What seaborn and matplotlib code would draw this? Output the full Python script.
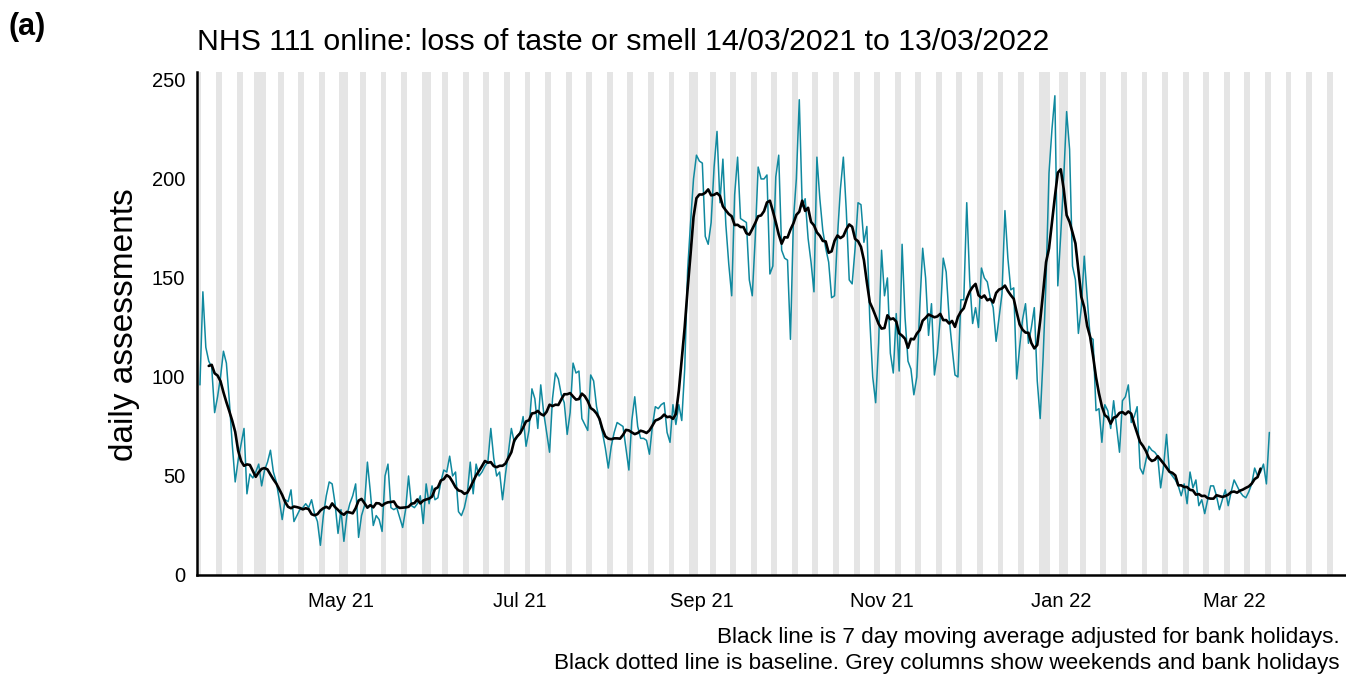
import pandas as pd
import matplotlib.pyplot as plt
import matplotlib.dates as mdates
import seaborn as sns

# Daily NHS 111 online assessments (loss of taste or smell)
mar21 = [96, 143, 115, 108, 105, 82, 90, 100, 113, 107, 88, 66, 47, 58, 66, 74, 41, 51]
apr21 = [49, 52, 56, 45, 53, 57, 63, 52, 47, 38, 28, 38, 37, 43, 27, 30, 33, 34, 36, 34,
         38, 31, 27, 15, 30, 40, 47, 46, 36, 21]
may21 = [33, 17, 30, 36, 40, 46, 19, 30, 35, 57, 42, 25, 30, 28, 22, 50, 56, 34, 33, 34,
         29, 24, 33, 50, 35, 34, 36, 40, 26, 46, 36]
jun21 = [45, 38, 39, 47, 53, 52, 60, 50, 52, 32, 30, 34, 41, 57, 41, 56, 50, 52, 55, 57,
         74, 59, 50, 52, 38, 51, 62, 74, 67, 70]
jul21 = [72, 80, 65, 73, 94, 89, 74, 96, 82, 72, 62, 89, 102, 99, 91, 87, 71, 82, 107, 102,
         103, 79, 76, 73, 101, 98, 85, 78, 72, 64, 54]
aug21 = [65, 72, 77, 76, 75, 64, 53, 78, 90, 75, 69, 69, 68, 61, 75, 85, 84, 86, 87, 72,
         67, 86, 76, 86, 78, 104, 154, 178, 200, 212, 209]
sep21 = [208, 171, 167, 178, 206, 224, 188, 210, 177, 157, 141, 192, 211, 180, 179, 178,
         149, 141, 170, 206, 200, 200, 202, 152, 156, 201, 212, 164, 160, 159]
oct21 = [119, 179, 200, 240, 186, 190, 170, 158, 143, 211, 190, 174, 165, 158, 140, 141,
         171, 195, 211, 184, 149, 147, 165, 188, 187, 168, 176, 129, 100, 87, 117]
nov21 = [164, 141, 150, 112, 102, 132, 103, 167, 130, 108, 104, 91, 100, 135, 165, 150,
         121, 137, 101, 112, 130, 160, 153, 130, 115, 101, 100, 139, 139, 188]
dec21 = [149, 127, 135, 125, 155, 150, 148, 140, 135, 118, 130, 142, 184, 160, 144, 145,
         99, 115, 129, 137, 117, 125, 135, 98, 79, 110, 149, 203, 225, 242, 146]
jan22 = [172, 200, 234, 215, 156, 149, 122, 135, 161, 140, 120, 119, 83, 84, 67, 86, 83,
         74, 88, 75, 62, 88, 90, 96, 77, 80, 85, 54, 51, 58, 65]
feb22 = [63, 62, 60, 44, 55, 71, 52, 50, 48, 45, 40, 46, 36, 52, 44, 48, 35, 38, 31, 38,
         45, 45, 40, 33, 38, 43, 35, 42]
mar22 = [48, 45, 42, 40, 39, 42, 46, 54, 50, 52, 56, 46, 72]

bank_holidays = ['2021-04-02', '2021-04-05', '2021-05-03', '2021-05-31', '2021-08-30',
                 '2021-12-27', '2021-12-28', '2022-01-03']

values = mar21 + apr21 + may21 + jun21 + jul21 + aug21 + sep21 + oct21 + nov21 + dec21 + jan22 + feb22 + mar22
df = pd.DataFrame({'date': pd.date_range('2021-03-14', periods=len(values), freq='D'),
                   'count': values})
df['ma7'] = df['count'].rolling(7, center=True).mean()

sns.set_style('white')
plt.rcParams['font.family'] = ['Liberation Sans', 'DejaVu Sans']
plt.rcParams['text.color'] = 'black'

fig = plt.figure(figsize=(13.46, 6.74), dpi=100)
ax = fig.add_axes([197 / 1346, 99 / 674, 1148 / 1346, 503 / 674])

x_start = pd.Timestamp('2021-03-13')
x_end = pd.Timestamp('2022-04-07 18:00')

# grey columns for weekends and bank holidays
hol = pd.to_datetime(bank_holidays)
for day in pd.date_range(x_start, x_end.normalize(), freq='D'):
    if day.weekday() >= 5 or day in hol:
        ax.axvspan(day - pd.Timedelta(hours=12), day + pd.Timedelta(hours=12),
                   color='#e5e5e5', lw=0, zorder=0)

sns.lineplot(data=df, x='date', y='count', color='#10899f', lw=1.1, ax=ax, zorder=2)
sns.lineplot(data=df, x='date', y='ma7', color='black', lw=1.9, ax=ax, zorder=3)

ax.set_xlim(x_start, x_end)
ax.set_ylim(0, 254)
ax.set_yticks([0, 50, 100, 150, 200, 250])
ax.set_xticks(pd.to_datetime(['2021-05-01', '2021-07-01', '2021-09-01', '2021-11-01',
                              '2022-01-01', '2022-03-01']))
ax.xaxis.set_major_formatter(mdates.DateFormatter('%b %y'))
ax.set_xlabel('')
ax.set_ylabel('')

for side in ['top', 'right']:
    ax.spines[side].set_visible(False)
for side in ['left', 'bottom']:
    ax.spines[side].set_color('black')
    ax.spines[side].set_linewidth(1.8)
ax.tick_params(axis='both', direction='out', length=5.5, width=1.3, color='black',
               labelsize=14.5, labelcolor='black')
ax.tick_params(axis='x', pad=7)
ax.tick_params(axis='y', pad=3)

fig.text(197 / 1346, 1 - 50 / 674, 'NHS 111 online: loss of taste or smell 14/03/2021 to 13/03/2022',
         fontsize=21.8, ha='left', va='baseline')
fig.text(8 / 1346, 1 - 35 / 674, '(a)', fontsize=22, fontweight='bold', ha='left', va='baseline')
fig.text(124 / 1346, 1 - 325 / 674, 'daily assessments', fontsize=24, rotation=90,
         ha='center', va='center')
fig.text(1340 / 1346, 1 - 637 / 674, 'Black line is 7 day moving average adjusted for bank holidays.',
         fontsize=16.2, ha='right', va='center')
fig.text(1340 / 1346, 1 - 664 / 674, 'Black dotted line is baseline. Grey columns show weekends and bank holidays',
         fontsize=16.2, ha='right', va='center')

plt.savefig('out.png', dpi=100)
